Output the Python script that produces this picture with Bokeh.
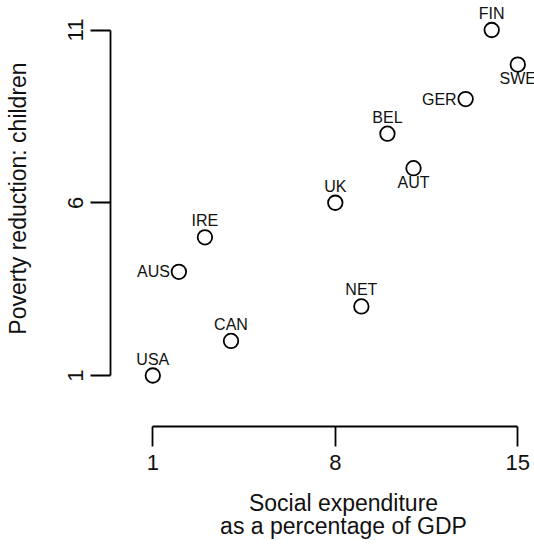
from math import pi
from bokeh.plotting import figure
from bokeh.models import FixedTicker, ColumnDataSource, Label
from bokeh.core.properties import value
from bokeh.embed import file_html
from bokeh.resources import INLINE

# ---- data -------------------------------------------------------------
countries = ["USA", "AUS", "IRE", "CAN", "UK", "NET", "BEL", "AUT", "GER", "FIN", "SWE"]
social_expenditure = [1, 2, 3, 4, 8, 9, 10, 11, 13, 14, 15]
poverty_reduction = [1, 4, 5, 2, 6, 3, 8, 7, 9, 11, 10]
x_ticks = [1, 8, 15]
y_ticks = [1, 6, 11]
x_title = ["Social expenditure", "as a percentage of GDP"]
y_title = "Poverty reduction: children"

# label placement (R-style pos) per country
label_side = ["above", "left", "above", "above", "above", "above",
              "above", "below", "left", "above", "below"]

FONT = "Liberation Sans"
W, H = 534, 544

# pixel layout (frame covers the whole canvas)
px_x = 26.07          # px per x unit
px_y = 34.55          # px per y unit
x_first_px = 152.3    # pixel column of the first x tick
y_last_px = 29.5      # pixel row of the last y tick
x_axis_row = 426      # pixel row of the detached x axis
y_axis_col = 110      # pixel column of the detached y axis

x0 = x_ticks[0] - x_first_px / px_x
x1 = x0 + W / px_x
y1 = y_ticks[-1] + y_last_px / px_y
y0 = y1 - H / px_y


def data_x(px):
    return x0 + px / px_x


def data_y(py):
    return y1 - py / px_y


p = figure(width=W, height=H, x_range=(x0, x1), y_range=(y0, y1),
           output_backend="svg", toolbar_location=None,
           min_border_left=0, min_border_right=0, min_border_top=0,
           min_border_bottom=0)
p.grid.visible = False
p.outline_line_color = None
p.background_fill_color = "white"
p.border_fill_color = "white"

for ax, ticks in ((p.xaxis, x_ticks), (p.yaxis, y_ticks)):
    ax.ticker = FixedTicker(ticks=ticks)
    ax.bounds = (ticks[0], ticks[-1])
    ax.axis_line_width = 1.8
    ax.axis_line_color = "black"
    ax.major_tick_line_width = 1.8
    ax.major_tick_line_color = "black"
    ax.major_tick_out = 20
    ax.major_tick_in = 0
    ax.minor_tick_line_color = None
    ax.major_label_text_font = FONT
    ax.major_label_text_font_size = "22px"
    ax.major_label_text_color = "#111111"

p.xaxis.fixed_location = data_y(x_axis_row)
p.yaxis.fixed_location = data_x(y_axis_col)
p.xaxis.major_label_standoff = 8
p.yaxis.major_label_standoff = 8
p.yaxis.major_label_orientation = "vertical"

# ---- axis titles ---------------------------------------------------------
title_cx = 343
for line, base in zip(x_title, (502, 525.5)):
    p.add_layout(Label(x=data_x(title_cx), y=data_y(base), text=line,
                       text_font=FONT, text_font_size="23px",
                       text_color="#111111", text_align="center",
                       text_baseline="alphabetic"))

p.add_layout(Label(x=data_x(17), y=data_y(198), text=y_title, angle=pi / 2,
                   text_font=FONT, text_font_size="23px", text_color="#111111",
                   text_align="center", text_baseline="alphabetic"))

# ---- points -------------------------------------------------------------
offsets = {
    "above": (0, -16.5, "center", "middle"),
    "below": (0, 14, "center", "middle"),
    "left": (-9, 0, "right", "middle"),
}
src = ColumnDataSource(dict(
    x=social_expenditure, y=poverty_reduction, name=countries,
    xo=[offsets[s][0] for s in label_side],
    yo=[offsets[s][1] for s in label_side],
    al=[offsets[s][2] for s in label_side],
    bl=[offsets[s][3] for s in label_side],
))

p.scatter("x", "y", source=src, marker="circle", size=14.5,
          fill_color=None, line_color="black", line_width=1.8)
p.text("x", "y", text="name", source=src, x_offset="xo", y_offset="yo",
       text_align="al", text_baseline="bl", text_font=value(FONT),
       text_font_size="16px", text_color="#111111")

open("out.html", "w").write(file_html(p, INLINE))
